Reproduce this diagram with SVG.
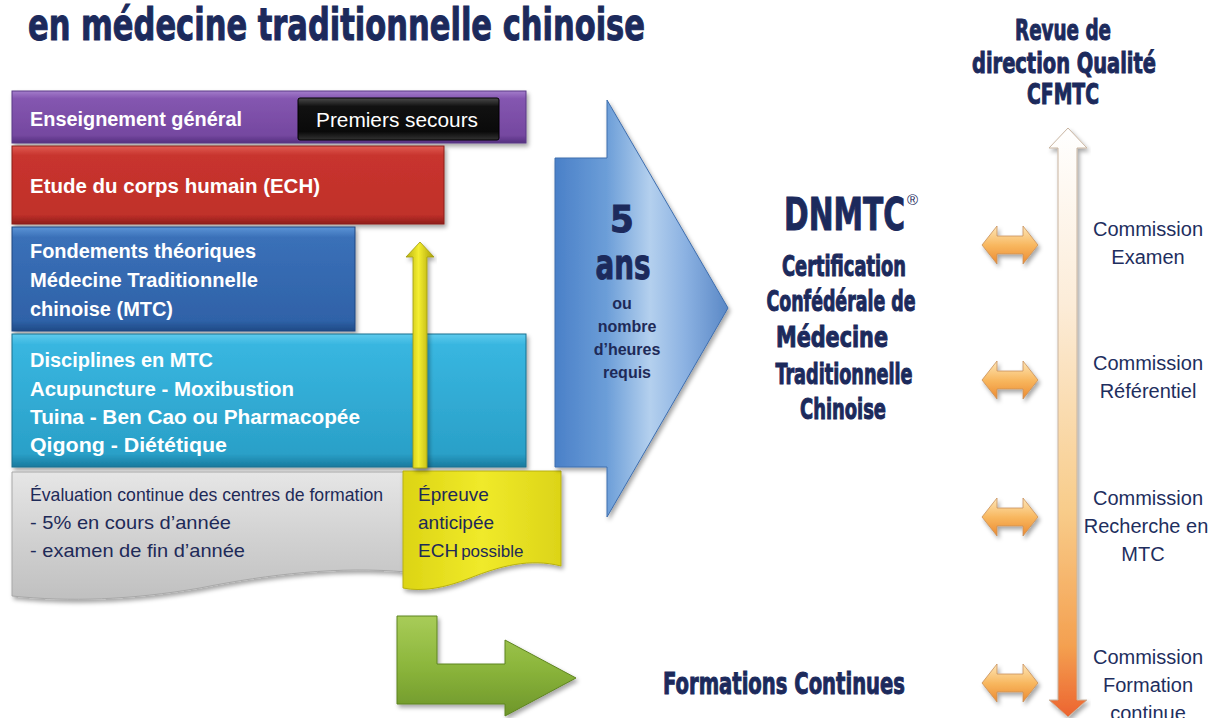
<svg xmlns="http://www.w3.org/2000/svg" xmlns:xlink="http://www.w3.org/1999/xlink" width="1210" height="718" viewBox="0 0 1210 718">
<defs>
<style>
.heavy{font-family:"Liberation Sans Narrow","DejaVu Sans Condensed","Liberation Sans",sans-serif;font-weight:bold;fill:#1c2a5c;stroke:#1c2a5c;stroke-width:1;}
.wb{font-family:"Liberation Sans",Arial,sans-serif;font-weight:bold;fill:#ffffff;font-size:20px;}
.wr{font-family:"Liberation Sans",Arial,sans-serif;fill:#ffffff;font-size:20px;}
.nv{font-family:"Liberation Sans",Arial,sans-serif;fill:#1e2a58;font-size:19px;}
.cm{font-family:"Liberation Sans",Arial,sans-serif;fill:#1e2e5e;font-size:20px;text-anchor:middle;}
.nb{font-family:"Liberation Sans",Arial,sans-serif;font-weight:bold;fill:#1e2a58;font-size:16px;text-anchor:middle;}
.bar{filter:url(#sh);}
</style>
<filter id="sh" x="-5%" y="-10%" width="115%" height="130%">
<feDropShadow dx="2" dy="3" stdDeviation="2" flood-color="#000" flood-opacity="0.35"/>
</filter>
<linearGradient id="gPur" x1="0" y1="0" x2="0" y2="1"><stop offset="0" stop-color="#a37ccb"/><stop offset="0.15" stop-color="#8456b0"/><stop offset="0.85" stop-color="#7548a0"/><stop offset="1" stop-color="#553080"/></linearGradient>
<linearGradient id="gRed" x1="0" y1="0" x2="0" y2="1"><stop offset="0" stop-color="#e05a52"/><stop offset="0.12" stop-color="#c8342e"/><stop offset="0.88" stop-color="#c0302a"/><stop offset="1" stop-color="#901e1a"/></linearGradient>
<linearGradient id="gBlu" x1="0" y1="0" x2="0" y2="1"><stop offset="0" stop-color="#5c94d6"/><stop offset="0.1" stop-color="#3a70b8"/><stop offset="0.9" stop-color="#2f62a8"/><stop offset="1" stop-color="#1f4a86"/></linearGradient>
<linearGradient id="gCya" x1="0" y1="0" x2="0" y2="1"><stop offset="0" stop-color="#5fcbed"/><stop offset="0.08" stop-color="#38b6e0"/><stop offset="0.9" stop-color="#2aa0c8"/><stop offset="1" stop-color="#1a7a9e"/></linearGradient>
<linearGradient id="gBlk" x1="0" y1="0" x2="0" y2="1"><stop offset="0" stop-color="#4a4a4a"/><stop offset="0.2" stop-color="#111"/><stop offset="0.8" stop-color="#0a0a0a"/><stop offset="1" stop-color="#333"/></linearGradient>
<linearGradient id="gGry" x1="0" y1="0" x2="0" y2="1"><stop offset="0" stop-color="#e6e6e6"/><stop offset="0.5" stop-color="#d2d2d2"/><stop offset="1" stop-color="#c0c0c0"/></linearGradient>
<linearGradient id="gYel" x1="0" y1="0" x2="1" y2="0"><stop offset="0" stop-color="#dcd414"/><stop offset="0.5" stop-color="#f0ea2a"/><stop offset="1" stop-color="#dcd418"/></linearGradient>
<linearGradient id="gYar" x1="0" y1="0" x2="1" y2="0"><stop offset="0" stop-color="#b8b010"/><stop offset="0.45" stop-color="#f4ee30"/><stop offset="1" stop-color="#a89e08"/></linearGradient>
<linearGradient id="gArrow" x1="555" y1="0" x2="728" y2="0" gradientUnits="userSpaceOnUse"><stop offset="0" stop-color="#4a80c8"/><stop offset="0.3" stop-color="#6c9ed8"/><stop offset="0.55" stop-color="#b4d0ee"/><stop offset="0.75" stop-color="#8cb2e2"/><stop offset="1" stop-color="#5a88c6"/></linearGradient>
<linearGradient id="gGrn" x1="0" y1="0" x2="0" y2="1"><stop offset="0" stop-color="#a8cc58"/><stop offset="0.5" stop-color="#8cb63c"/><stop offset="1" stop-color="#6e962a"/></linearGradient>
<linearGradient id="gVert" x1="0" y1="128" x2="0" y2="717" gradientUnits="userSpaceOnUse"><stop offset="0" stop-color="#ffffff"/><stop offset="0.3" stop-color="#fcecd8"/><stop offset="0.65" stop-color="#f8cc8a"/><stop offset="0.88" stop-color="#f4a050"/><stop offset="1" stop-color="#ec6430"/></linearGradient>
<linearGradient id="gDbl" x1="0" y1="0" x2="0" y2="1"><stop offset="0" stop-color="#fde6b8"/><stop offset="0.5" stop-color="#f8b860"/><stop offset="1" stop-color="#ec8a30"/></linearGradient>
<path id="dbl" d="M982,0 L997,-19 L997,-9 L1023,-9 L1023,-19 L1038,0 L1023,19 L1023,9 L997,9 L997,19 Z" fill="url(#gDbl)" stroke="#c8905a" stroke-width="0.8"/>
</defs>

<rect width="1210" height="718" fill="#ffffff"/>

<g id="title">
<text class="heavy" x="28" y="40" font-size="45" stroke-width="1.6" textLength="617" lengthAdjust="spacingAndGlyphs">en médecine traditionnelle chinoise</text>
</g>

<g id="node-enseignement">
<rect class="bar" x="12" y="91" width="514" height="52" fill="url(#gPur)" stroke="#5a3a86" stroke-width="1"/>
<text class="wb" x="30" y="126" textLength="212" lengthAdjust="spacingAndGlyphs">Enseignement général</text>
</g>
<g id="node-premiers-secours">
<rect x="298" y="98" width="201" height="42" rx="2" fill="url(#gBlk)" stroke="#000" stroke-width="1"/>
<text class="wr" x="397" y="127" text-anchor="middle" textLength="162" lengthAdjust="spacingAndGlyphs">Premiers  secours</text>
</g>
<g id="node-ech">
<rect class="bar" x="12" y="146" width="432" height="78" fill="url(#gRed)" stroke="#8a1e1a" stroke-width="1"/>
<text class="wb" x="30" y="193" textLength="290" lengthAdjust="spacingAndGlyphs">Etude du corps humain (ECH)</text>
</g>
<g id="node-fondements">
<rect class="bar" x="12" y="227" width="343" height="104" fill="url(#gBlu)" stroke="#1e4680" stroke-width="1"/>
<text class="wb" x="30" y="258" textLength="226" lengthAdjust="spacingAndGlyphs">Fondements théoriques</text>
<text class="wb" x="30" y="287" textLength="228" lengthAdjust="spacingAndGlyphs">Médecine Traditionnelle</text>
<text class="wb" x="30" y="316" textLength="143" lengthAdjust="spacingAndGlyphs">chinoise (MTC)</text>
</g>
<g id="node-disciplines">
<rect class="bar" x="12" y="334" width="514" height="133" fill="url(#gCya)" stroke="#1a7090" stroke-width="1"/>
<text class="wb" x="30" y="367" textLength="183" lengthAdjust="spacingAndGlyphs">Disciplines en MTC</text>
<text class="wb" x="30" y="396" textLength="264" lengthAdjust="spacingAndGlyphs">Acupuncture  - Moxibustion</text>
<text class="wb" x="30" y="424" textLength="330" lengthAdjust="spacingAndGlyphs">Tuina -  Ben Cao ou  Pharmacopée</text>
<text class="wb" x="30" y="452" textLength="197" lengthAdjust="spacingAndGlyphs">Qigong - Diététique</text>
</g>
<g id="node-evaluation">
<path class="bar" d="M12,472 L406,472 L406,572 C340,566 270,574 200,588 C130,600 70,602 12,596 Z" fill="url(#gGry)" stroke="#a8a8a8" stroke-width="1"/>
<text class="nv" x="30" y="501" textLength="353" lengthAdjust="spacingAndGlyphs">Évaluation continue des centres de formation</text>
<text class="nv" x="30" y="529" textLength="201" lengthAdjust="spacingAndGlyphs">- 5% en cours d’année</text>
<text class="nv" x="30" y="557" textLength="215" lengthAdjust="spacingAndGlyphs">- examen de fin d’année</text>
</g>
<g id="node-epreuve">
<path class="bar" d="M403,471 L561,471 L561,566 C530,558 500,566 470,578 C445,588 422,592 403,588 Z" fill="url(#gYel)" stroke="#b8b010" stroke-width="1"/>
<text class="nv" x="418" y="501" font-size="20">Épreuve</text>
<text class="nv" x="418" y="529" font-size="20">anticipée</text>
<text class="nv" x="418" y="557" font-size="20">ECH<tspan font-size="17" dx="3">possible</tspan></text>
</g>

<g id="node-duree">
<path class="bar" d="M555,158 L607,158 L607,100 L728,308 L607,517 L607,467 L555,467 Z" fill="url(#gArrow)" stroke="#3e6eae" stroke-width="1"/>
<text class="heavy" x="622" y="232" font-size="38" stroke-width="1.4" text-anchor="middle">5</text>
<text class="heavy" x="623" y="279" font-size="42" stroke-width="1.4" text-anchor="middle" textLength="55" lengthAdjust="spacingAndGlyphs">ans</text>
<text class="nb" x="622" y="309">ou</text>
<text class="nb" x="627" y="332">nombre</text>
<text class="nb" x="627" y="355">d’heures</text>
<text class="nb" x="627" y="378">requis</text>
</g>

<g id="node-dnmtc">
<text class="heavy" x="784" y="230" font-size="45" stroke-width="1.5" textLength="121" lengthAdjust="spacingAndGlyphs">DNMTC</text>
<text x="907" y="205" font-family="Liberation Sans,Arial,sans-serif" font-size="15" fill="#1c2a5c">®</text>
<text class="heavy" x="844" y="276" font-size="28" text-anchor="middle" textLength="124" lengthAdjust="spacingAndGlyphs">Certification</text>
<text class="heavy" x="841" y="311" font-size="28" text-anchor="middle" textLength="149" lengthAdjust="spacingAndGlyphs">Confédérale de</text>
<text class="heavy" x="832" y="347" font-size="28" text-anchor="middle" textLength="112" lengthAdjust="spacingAndGlyphs">Médecine</text>
<text class="heavy" x="844" y="384" font-size="28" text-anchor="middle" textLength="137" lengthAdjust="spacingAndGlyphs">Traditionnelle</text>
<text class="heavy" x="843" y="419" font-size="28" text-anchor="middle" textLength="86" lengthAdjust="spacingAndGlyphs">Chinoise</text>
</g>

<g id="node-formations">
<text class="heavy" x="663" y="694" font-size="31" stroke-width="1.3" textLength="242" lengthAdjust="spacingAndGlyphs">Formations Continues</text>
</g>

<g id="node-revue">
<text class="heavy" x="1063" y="40" font-size="29" stroke-width="1.3" text-anchor="middle" textLength="96" lengthAdjust="spacingAndGlyphs">Revue de</text>
<text class="heavy" x="1064" y="73" font-size="29" stroke-width="1.3" text-anchor="middle" textLength="184" lengthAdjust="spacingAndGlyphs">direction Qualité</text>
<text class="heavy" x="1063" y="104" font-size="29" stroke-width="1.3" text-anchor="middle" textLength="72" lengthAdjust="spacingAndGlyphs">CFMTC</text>
</g>

<g id="node-commission-examen">
<text class="cm" x="1148" y="236">Commission</text>
<text class="cm" x="1148" y="264">Examen</text>
</g>
<g id="node-commission-referentiel">
<text class="cm" x="1148" y="370">Commission</text>
<text class="cm" x="1148" y="398">Référentiel</text>
</g>
<g id="node-commission-recherche">
<text class="cm" x="1148" y="505">Commission</text>
<text class="cm" x="1146" y="533">Recherche en</text>
<text class="cm" x="1143" y="561">MTC</text>
</g>
<g id="node-commission-formation">
<text class="cm" x="1148" y="664">Commission</text>
<text class="cm" x="1148" y="692">Formation</text>
<text class="cm" x="1148" y="720">continue</text>
</g>

<g id="connectors">
<path class="bar" d="M413,468 L413,257 L406,257 L420,242 L434,257 L427,257 L427,468 Z" fill="url(#gYar)" stroke="#a09a10" stroke-width="0.8"/>
<path class="bar" d="M397,616 L437,616 L437,664 L505,664 L505,640 L576,678 L505,716 L505,704 L397,704 Z" fill="url(#gGrn)" stroke="#5e8420" stroke-width="1"/>
<path class="bar" d="M1058,148 L1049,148 L1068,128 L1087,148 L1077,148 L1077,700 L1087,700 L1068,717 L1049,700 L1058,700 Z" fill="url(#gVert)" stroke="#c8b4a0" stroke-width="1"/>
<use xlink:href="#dbl" y="245" class="bar"/>
<use xlink:href="#dbl" y="380" class="bar"/>
<use xlink:href="#dbl" y="517" class="bar"/>
<use xlink:href="#dbl" y="683" class="bar"/>
</g>
</svg>
